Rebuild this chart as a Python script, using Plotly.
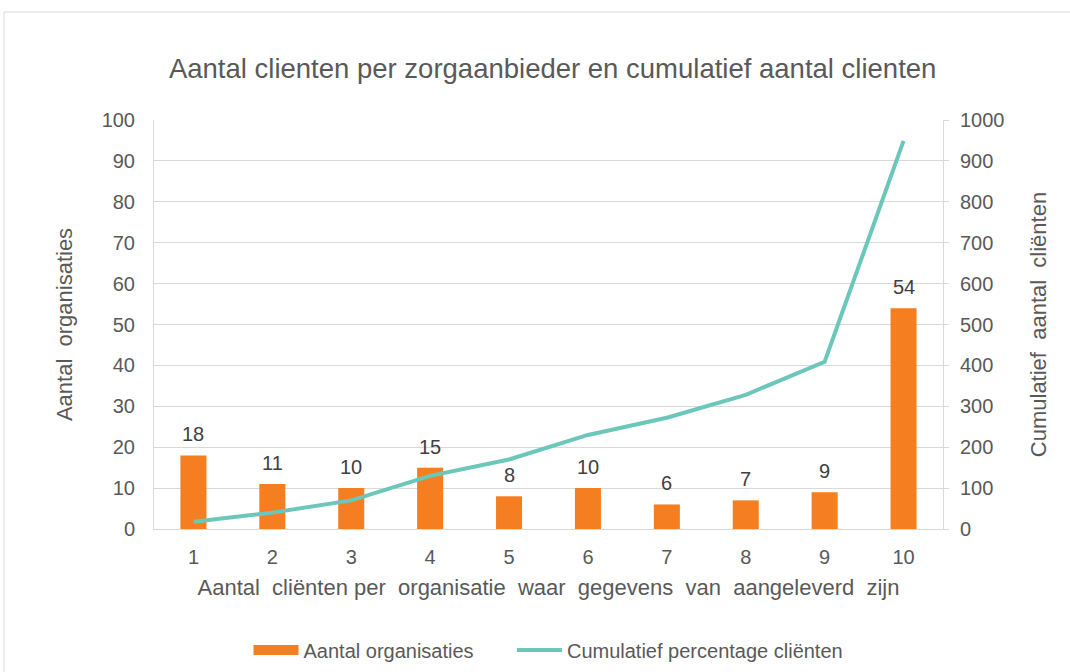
import plotly.graph_objects as go

categories = ["1", "2", "3", "4", "5", "6", "7", "8", "9", "10"]
aantal_organisaties = [18, 11, 10, 15, 8, 10, 6, 7, 9, 54]
cumulatief_clienten = [18, 40, 70, 130, 170, 230, 272, 328, 409, 949]

title_text = "Aantal clienten per zorgaanbieder en cumulatief aantal clienten"
x_title = "Aantal  cliënten per  organisatie  waar  gegevens  van  aangeleverd  zijn"
y_title = "Aantal  organisaties"
y2_title = "Cumulatief  aantal  cliënten"
legend_bar = "Aantal organisaties"
legend_line = "Cumulatief percentage cliënten"

FONT = "Liberation Sans, Arial, sans-serif"
TXT = "#595959"
GRID = "#D9D9D9"
ORANGE = "#F47E20"
TEAL = "#6CC7BB"

fig = go.Figure()
fig.add_trace(go.Bar(
    x=categories, y=aantal_organisaties, name=legend_bar, showlegend=False,
    marker=dict(color=ORANGE, line=dict(width=0)),
    width=0.33,
))
# legend entry drawn as a wide orange block like the reference
fig.add_trace(go.Scatter(
    x=[None], y=[None], name=legend_bar + "\u00a0" * 6, mode="lines",
    line=dict(color=ORANGE, width=12), showlegend=True,
))
fig.add_trace(go.Scatter(
    x=categories, y=cumulatief_clienten, name=legend_line,
    mode="lines", line=dict(color=TEAL, width=4), yaxis="y2",
))

# data labels above the bars (category axis positions by index)
for i, v in enumerate(aantal_organisaties):
    fig.add_annotation(x=i, y=v, xref="x", yref="y", text=str(v), showarrow=False,
                       yanchor="bottom", yshift=8,
                       font=dict(size=20, color="#404040", family=FONT))

W, H = 1070, 672
L, R, T, B = 154, 127, 120, 143
pw, ph = W - L - R, H - T - B

def px(x):
    return (x - L) / pw

def py(y):
    return (H - B - y) / ph

fig.update_layout(
    width=W, height=H,
    margin=dict(l=L, r=R, t=T, b=B, autoexpand=False),
    paper_bgcolor="white", plot_bgcolor="white",
    font=dict(family=FONT, color=TXT, size=20),
    title=dict(text=title_text, x=0.5165, xanchor="center", y=1 - 68 / H, yanchor="middle",
               font=dict(size=27.5, color=TXT, family=FONT)),
    showlegend=True,
    legend=dict(orientation="h", x=0.5, xanchor="center", y=py(650), yanchor="middle",
                font=dict(size=20, color=TXT, family=FONT),
                itemwidth=45, traceorder="normal"),
    xaxis=dict(
        type="category", range=[-0.5, 9.5],
        showgrid=False, showline=True, linecolor=GRID, linewidth=1,
        ticks="", tickfont=dict(size=20, color=TXT), automargin=False,
        ticklabelstandoff=10,
        title=dict(text=x_title, font=dict(size=22, color=TXT), standoff=12),
    ),
    yaxis=dict(
        range=[0, 100], dtick=10, showgrid=True, gridcolor=GRID, gridwidth=1,
        showline=True, linecolor=GRID, linewidth=1, ticks="",
        tickfont=dict(size=20, color=TXT), zeroline=False, automargin=False,
        ticklabelstandoff=14,
        title=dict(text=y_title, font=dict(size=22, color=TXT), standoff=22),
    ),
    yaxis2=dict(
        range=[0, 1000], dtick=100, overlaying="y", side="right",
        showgrid=False, showline=True, linecolor=GRID, linewidth=1,
        ticks="outside", ticklen=5, tickcolor=GRID, automargin=False,
        ticklabelstandoff=7,
        tickfont=dict(size=20, color=TXT), zeroline=False,
        title=dict(text=y2_title, font=dict(size=22, color=TXT), standoff=27),
    ),
)

fig.add_shape(type="rect", xref="paper", yref="paper",
              x0=px(4), x1=px(1075), y0=py(12), y1=py(680),
              line=dict(color="#D9D9D9", width=1), fillcolor="rgba(0,0,0,0)", layer="below")

fig.write_html("out.html", config={"displayModeBar": False},
               post_script="document.body.style.margin='0';")
